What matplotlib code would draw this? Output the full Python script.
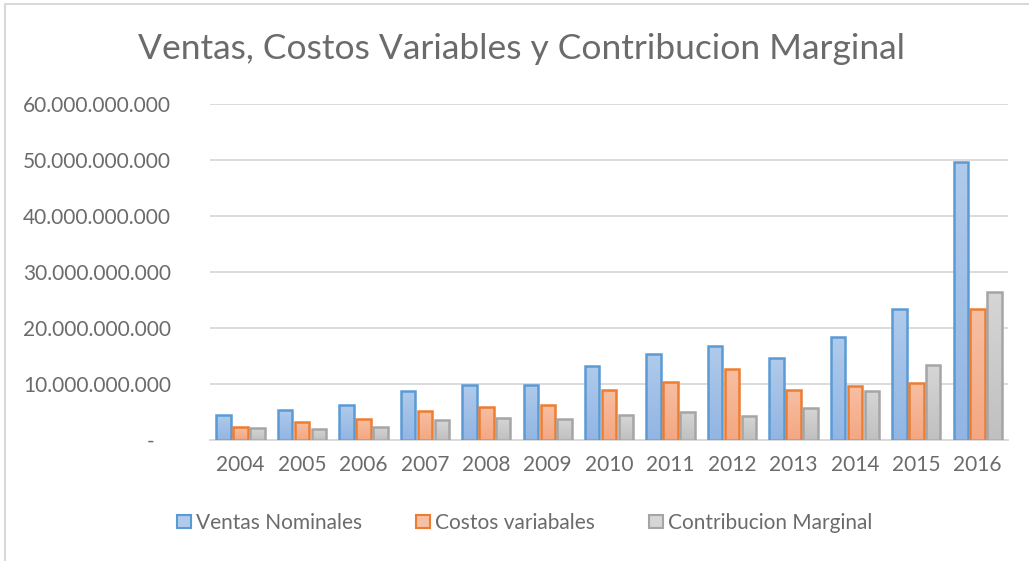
import numpy as np
import matplotlib
matplotlib.use('Agg')
import matplotlib.pyplot as plt
from matplotlib.ticker import FuncFormatter, MultipleLocator
from matplotlib.patches import Rectangle, Patch
from matplotlib.colors import LinearSegmentedColormap

plt.rcParams['font.family'] = ['Lato', 'DejaVu Sans']

years = ['2004', '2005', '2006', '2007', '2008', '2009', '2010',
         '2011', '2012', '2013', '2014', '2015', '2016']
ventas = [4.46, 5.36, 6.19, 8.81, 9.76, 9.88, 13.27,
          15.36, 16.85, 14.64, 18.33, 23.45, 49.70]
costos = [2.38, 3.27, 3.81, 5.24, 5.95, 6.19, 8.99,
          10.42, 12.62, 8.99, 9.58, 10.18, 23.39]
contribucion = [2.14, 2.02, 2.38, 3.57, 3.99, 3.75, 4.40,
                5.00, 4.29, 5.77, 8.81, 13.33, 26.43]
series_names = ['Ventas Nominales', 'Costos variabales', 'Contribucion Marginal']

# values above are in billions
series = [np.array(v) * 1e9 for v in (ventas, costos, contribucion)]
edges = ['#5b9bd5', '#ed7d31', '#a5a5a5']
tops = ['#b0cbeb', '#f7bfa3', '#d6d6d6']
bottoms = ['#92b5e3', '#f4a782', '#c0c0c0']

text_col = '#6b6b6b'

fig = plt.figure(figsize=(10.29, 5.61), dpi=100)
ax = fig.add_axes([0.204, 0.2157, 0.776, 0.599])

x = np.arange(len(years))
pitch = 0.276
width = 0.235
grad = np.linspace(0, 1, 256).reshape(-1, 1)

for i, vals in enumerate(series):
    bars = ax.bar(x + (i - 1) * pitch, vals, width, color='none',
                  edgecolor=edges[i], linewidth=1.8, zorder=3)
    cmap = LinearSegmentedColormap.from_list('g%d' % i, [bottoms[i], tops[i]])
    for b in bars:
        x0, w, h = b.get_x(), b.get_width(), b.get_height()
        # vertical gradient fill, one per bar
        im = ax.imshow(grad, cmap=cmap, origin='lower', aspect='auto',
                       extent=[x0, x0 + w, 0, h], zorder=2)
        im.set_clip_path(b)

ax.set_xlim(-0.5, len(years) - 0.5)
ax.set_ylim(0, 60e9)
ax.yaxis.set_major_locator(MultipleLocator(10e9))


def miles(v, pos):
    if v == 0:
        return '-   '
    return '{:,.0f}'.format(v).replace(',', '.')


ax.yaxis.set_major_formatter(FuncFormatter(miles))
ax.set_xticks(x)
ax.set_xticklabels(years)
ax.tick_params(axis='both', length=0, labelsize=15, colors=text_col)
ax.tick_params(axis='y', pad=28)
ax.tick_params(axis='x', pad=11)
ax.grid(axis='y', color='#d9d9d9', linewidth=1.3, zorder=0)
for s in ['top', 'right', 'left']:
    ax.spines[s].set_visible(False)
ax.spines['bottom'].set_color('#d9d9d9')
ax.spines['bottom'].set_linewidth(1.3)

fig.text(0.507, 0.912, 'Ventas, Costos Variables y Contribucion Marginal',
         ha='center', va='center', fontsize=25.5, color=text_col)

handles = [Patch(facecolor=tops[i], edgecolor=edges[i], linewidth=1.5)
           for i in range(3)]
leg = fig.legend(handles, series_names, loc='center', ncol=3,
                 bbox_to_anchor=(0.51, 0.068), frameon=False, fontsize=15,
                 handlelength=0.65, handleheight=0.65, handletextpad=0.25,
                 columnspacing=2.6)
for t in leg.get_texts():
    t.set_color(text_col)

# chart area border
fig.patches.append(Rectangle((0.005, -0.01), 1.1, 1.003, transform=fig.transFigure,
                             fill=False, edgecolor='#d9d9d9', linewidth=1.5))

fig.savefig('out.png', dpi=100, facecolor='white')
